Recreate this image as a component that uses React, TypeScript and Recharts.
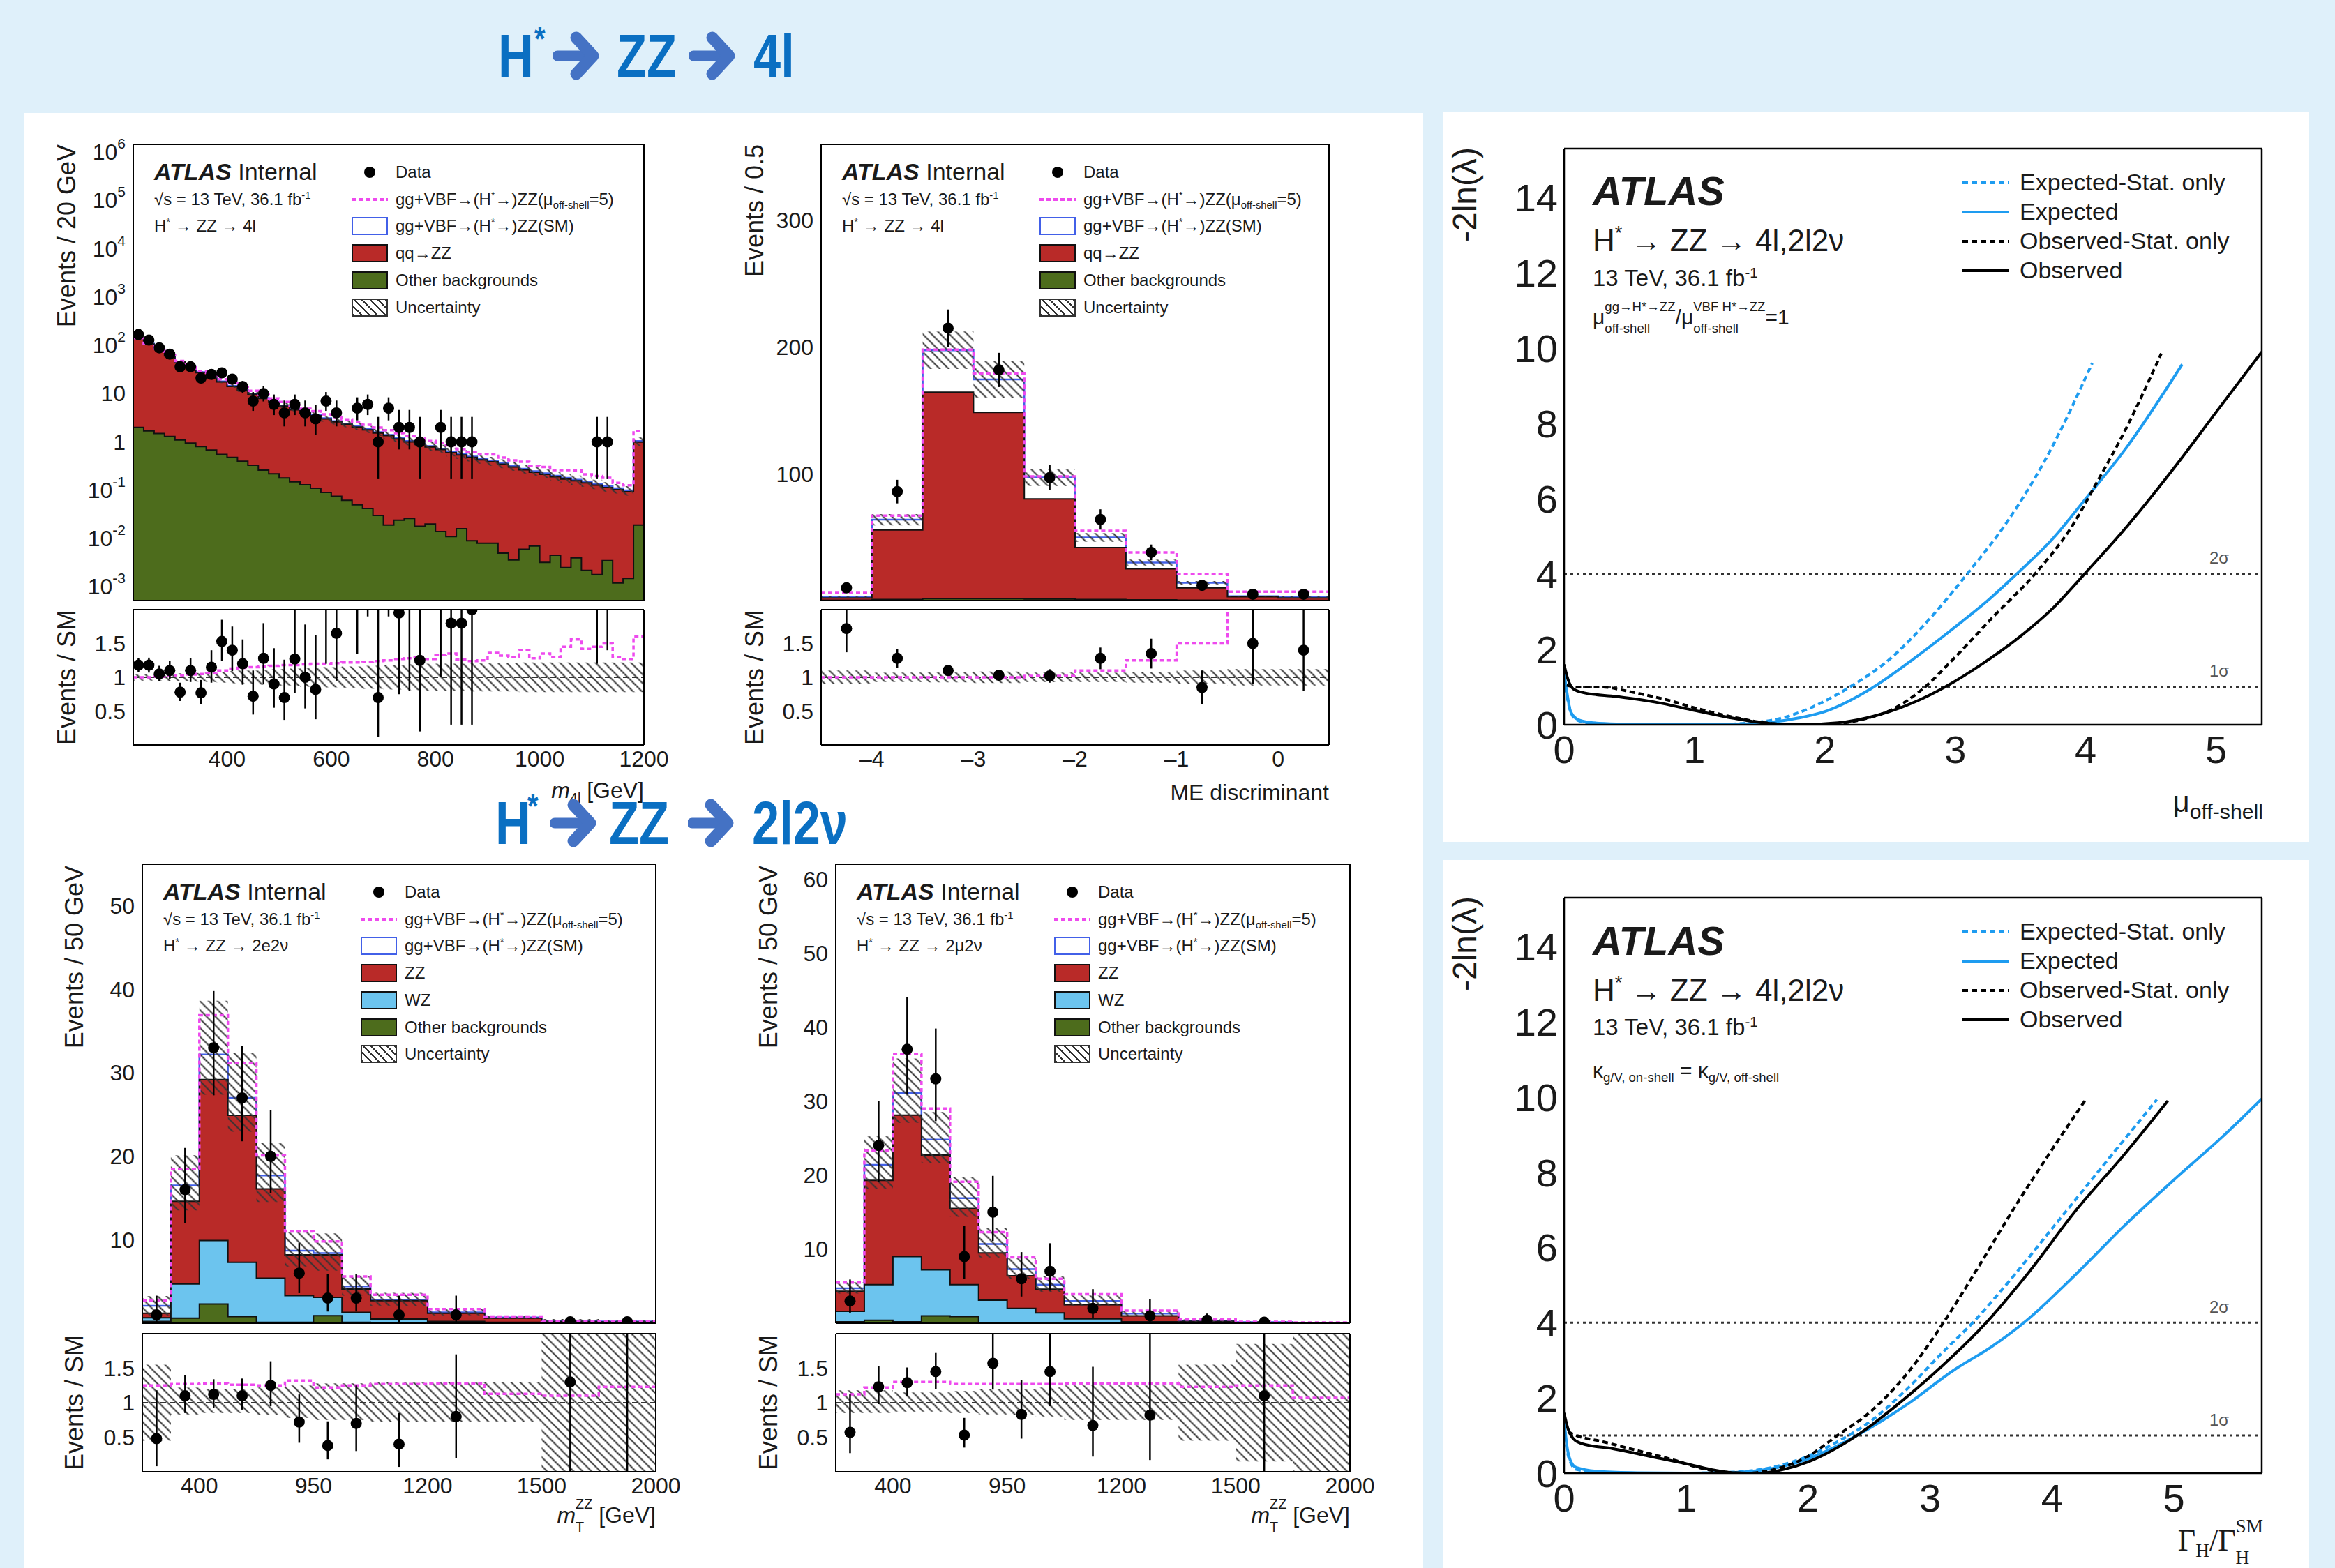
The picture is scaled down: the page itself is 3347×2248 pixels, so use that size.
import React from 'react';
import { ComposedChart, Area, Line, Scatter, XAxis, YAxis, ErrorBar, ReferenceLine } from 'recharts';

const FONT = '"Liberation Sans", Arial, Helvetica, sans-serif';
const SERIF = '"Liberation Serif", "Times New Roman", serif';
const BG = '#dff0fa';
const RED = '#b92a28';
const GREEN = '#4d6c1c';
const WZC = '#6cc4ee';
const SIGC = '#4260e8';
const MAG = '#ee4aee';
const CBLUE = '#1e9cf0';
const INK = '#1a1a1a';
const TITLE_BLUE = '#0a6fc2';
const ARROW_BLUE = '#4472c4';

// ---------- H* -> ZZ -> 4l, m4l (20 GeV bins, 220-1200) ----------
const m4lEdges = Array.from({ length: 50 }, (_, i) => 220 + 20 * i);
const m4lOther = [2.0, 1.7, 1.5, 1.3, 1.1, 0.95, 0.8, 0.68, 0.55, 0.48, 0.4, 0.33, 0.26, 0.22, 0.18, 0.15, 0.13, 0.11, 0.09, 0.075, 0.062, 0.05, 0.042, 0.03, 0.019, 0.024, 0.026, 0.018, 0.02, 0.014, 0.011, 0.016, 0.009, 0.008, 0.008, 0.005, 0.0036, 0.006, 0.007, 0.0032, 0.0045, 0.0025, 0.004, 0.0022, 0.0018, 0.0035, 0.0012, 0.0015, 0.019];
const m4lQQ = [137, 105, 82, 59, 44, 34, 26.5, 20.8, 17, 13.6, 11.3, 9.4, 7.7, 6.4, 5.35, 4.5, 3.84, 3.38, 2.91, 2.54, 2.26, 1.98, 1.74, 1.51, 1.33, 1.13, 0.98, 0.87, 0.77, 0.68, 0.59, 0.52, 0.47, 0.42, 0.38, 0.34, 0.3, 0.26, 0.23, 0.21, 0.186, 0.169, 0.153, 0.14, 0.126, 0.11, 0.102, 0.092, 0.98];
const m4lSig = [2.5, 2.0, 1.6, 1.3, 1.0, 0.8, 0.65, 0.55, 0.45, 0.38, 0.32, 0.27, 0.23, 0.2, 0.17, 0.15, 0.13, 0.115, 0.1, 0.09, 0.08, 0.072, 0.065, 0.058, 0.052, 0.046, 0.041, 0.037, 0.033, 0.03, 0.027, 0.024, 0.022, 0.02, 0.018, 0.016, 0.015, 0.013, 0.012, 0.011, 0.01, 0.009, 0.0085, 0.008, 0.0075, 0.007, 0.0065, 0.006, 0.05];
const m4lMu5Ratio = [1.0, 1.0, 1.01, 1.02, 1.03, 1.04, 1.05, 1.06, 1.1, 1.13, 1.14, 1.15, 1.16, 1.17, 1.18, 1.18, 1.19, 1.2, 1.2, 1.21, 1.22, 1.22, 1.23, 1.24, 1.25, 1.27, 1.28, 1.3, 1.27, 1.33, 1.35, 1.26, 1.24, 1.25, 1.36, 1.32, 1.3, 1.4, 1.28, 1.35, 1.3, 1.45, 1.56, 1.42, 1.45, 1.5, 1.3, 1.27, 1.6];
const m4lUnc = [0.05, 0.05, 0.05, 0.055, 0.06, 0.06, 0.065, 0.07, 0.08, 0.09, 0.1, 0.1, 0.11, 0.12, 0.12, 0.13, 0.14, 0.14, 0.15, 0.15, 0.16, 0.16, 0.17, 0.17, 0.18, 0.18, 0.19, 0.19, 0.2, 0.2, 0.2, 0.2, 0.21, 0.21, 0.21, 0.21, 0.21, 0.22, 0.22, 0.22, 0.22, 0.22, 0.22, 0.22, 0.22, 0.22, 0.22, 0.22, 0.22];
// [bin, value, errLow, errHigh]
const m4lData = [[0, 168, 13, 13.5], [1, 129, 11.4, 11.9], [2, 89, 9.4, 9.9], [3, 66, 8.1, 8.6], [4, 36, 6, 6.5], [5, 36, 6, 6.5], [6, 21, 4.6, 5.1], [7, 25, 5, 5.5], [8, 27, 5.2, 5.7], [9, 20, 4.5, 5], [10, 14, 3.7, 4.3], [11, 7, 2.6, 3.8], [12, 10, 3.1, 4.3], [13, 6, 2.4, 3.6], [14, 4, 1.9, 3.2], [15, 6, 2.4, 3.6], [16, 4, 1.9, 3.2], [17, 3, 1.6, 2.9], [18, 7, 2.6, 3.8], [19, 4, 1.9, 3.2], [21, 5, 2.2, 3.4], [22, 6, 2.4, 3.6], [23, 1, 0.83, 2.3], [24, 5, 2.2, 3.4], [25, 2, 1.3, 2.6], [26, 2, 1.3, 2.6], [27, 1, 0.83, 2.3], [29, 2, 1.3, 2.6], [30, 1, 0.83, 2.3], [31, 1, 0.83, 2.3], [32, 1, 0.83, 2.3], [44, 1, 0.83, 2.3], [45, 1, 0.83, 2.3]];
const m4lRatio = [[0, 1.18, 0.1, 0.1], [1, 1.18, 0.11, 0.11], [2, 1.05, 0.11, 0.12], [3, 1.1, 0.13, 0.14], [4, 0.78, 0.13, 0.14], [5, 1.1, 0.17, 0.18], [6, 0.77, 0.17, 0.19], [7, 1.15, 0.23, 0.25], [8, 1.53, 0.29, 0.32], [9, 1.4, 0.31, 0.35], [10, 1.2, 0.31, 0.36], [11, 0.72, 0.27, 0.38], [12, 1.28, 0.38, 0.52], [13, 0.9, 0.35, 0.53], [14, 0.7, 0.33, 0.56], [15, 1.27, 0.5, 0.75], [16, 1.0, 0.46, 0.78], [17, 0.82, 0.44, 0.8], [18, 2.3, 1.1, 1.2], [19, 1.65, 0.7, 1.2], [21, 2.4, 1.05, 1.6], [22, 3.2, 1.3, 2], [23, 0.7, 0.58, 1.5], [24, 3.5, 1.6, 2.4], [25, 1.95, 1.2, 2.2], [26, 2.2, 1.4, 2.7], [27, 1.25, 1.05, 2.6], [29, 2.8, 1.8, 3.6], [30, 1.8, 1.5, 3.6], [31, 1.8, 1.5, 4], [32, 2.0, 1.7, 4.6], [44, 7.4, 6.2, 17], [45, 8.3, 6.9, 19]];

// ---------- H* -> ZZ -> 4l, ME discriminant ----------
const meEdges = [-4.5, -4, -3.5, -3, -2.5, -2, -1.5, -1, -0.5, 0, 0.5];
const meOther = [0.3, 0.8, 1.5, 1.5, 1.2, 0.8, 0.5, 0.3, 0.1, 0.1];
const meQQ = [1.7, 55, 163, 147, 79, 41, 24.5, 9.7, 2.9, 1.9];
const meSig = [1, 8, 33, 26, 17, 8, 5, 4, 0.5, 1];
const meMu5 = [6, 67, 198, 179, 98, 55, 38, 21, 7, 7];
const meMu5Ratio = [1, 1, 1, 1, 1.02, 1.1, 1.25, 1.5, 2.3, 2.3];
const meUnc = [0.1, 0.07, 0.075, 0.085, 0.07, 0.07, 0.08, 0.1, 0.12, 0.12];
const meData = [[0, 10, 3.2, 3.2], [1, 86, 9.3, 9.3], [2, 215, 14.7, 14.7], [3, 182, 13.5, 13.5], [4, 97, 9.8, 9.8], [5, 64, 8, 8], [6, 38, 6.2, 6.2], [7, 12, 3.5, 3.5], [8, 5, 2.2, 2.2], [9, 5, 2.2, 2.2]];
const meRatio = [[0, 1.72, 0.35, 0.35], [1, 1.28, 0.14, 0.14], [2, 1.1, 0.08, 0.08], [3, 1.03, 0.08, 0.08], [4, 1.02, 0.1, 0.1], [5, 1.28, 0.16, 0.16], [6, 1.35, 0.22, 0.22], [7, 0.85, 0.25, 0.25], [8, 1.5, 0.6, 0.6], [9, 1.4, 0.6, 0.6]];

// ---------- H* -> ZZ -> 2l2v, mT (bins drawn at equal width) ----------
const mtEdges = [0, 1, 2, 3, 4, 5, 6, 7, 8, 10, 12, 14, 16, 18];
const mtTickPos = [2, 6, 10, 14, 18];
const mtTickLabels = ['400', '950', '1200', '1500', '2000'];

const eeOther = [0.2, 0.6, 2.3, 0.8, 0.1, 0.1, 0.9, 0.1, 0.05, 0.03, 0.02, 0.01, 0.01];
const eeWZ = [0.45, 4.1, 7.6, 6.5, 5.3, 3.2, 2.2, 1.2, 0.45, 0.17, 0.08, 0.04, 0.02];
const eeZZ = [0.55, 9.9, 19.3, 17.6, 10.7, 4.9, 5.1, 2.8, 2.2, 1.0, 0.5, 0.15, 0.12];
const eeSig = [0.9, 1.9, 3.0, 2.1, 1.6, 0.5, 0.2, 0.3, 0.1, 0.1, 0.1, 0.05, 0.05];
const eeMu5 = [2.7, 18.5, 36.9, 31.2, 20.1, 11, 9.8, 5.6, 3.4, 1.7, 0.8, 0.25, 0.2];
const eeMu5Ratio = [1.25, 1.27, 1.28, 1.26, 1.25, 1.32, 1.22, 1.25, 1.27, 1.28, 1.13, 1.1, 1.23];
const eeUncLo = [0.45, 0.82, 0.85, 0.85, 0.82, 0.78, 0.75, 0.75, 0.72, 0.72, 0.72, 0, 0];
const eeUncHi = [1.55, 1.22, 1.2, 1.2, 1.22, 1.25, 1.28, 1.28, 1.3, 1.3, 1.3, 2, 2];
const eeData = [[0, 1, 0.83, 2.3], [1, 16, 4, 5], [2, 33, 5.7, 6.8], [3, 27, 5.2, 6.2], [4, 20, 4.4, 5.5], [5, 6, 2.4, 3.6], [6, 3, 1.6, 2.9], [7, 3, 1.6, 2.9], [8, 1, 0.83, 2.3], [9, 1, 0.83, 2.3], [11, 0.17, 0.14, 0.38], [12, 0.17, 0.14, 0.38]];
const eeRatio = [[0, 0.48, 0.4, 0.7], [1, 1.1, 0.25, 0.3], [2, 1.12, 0.2, 0.22], [3, 1.1, 0.2, 0.25], [4, 1.25, 0.3, 0.35], [5, 0.72, 0.3, 0.4], [6, 0.38, 0.2, 0.35], [7, 0.7, 0.4, 0.55], [8, 0.4, 0.33, 0.45], [9, 0.8, 0.6, 0.9], [11, 1.3, 1.3, 2], [12, 2.6, 2.6, 3]];

const mmOther = [0.2, 0.4, 0.2, 1.0, 0.9, 0.1, 0.1, 0.05, 0.05, 0.02, 0.01, 0.01, 0.01];
const mmWZ = [1.4, 4.8, 8.8, 6.2, 4.3, 3.0, 1.9, 1.35, 0.55, 0.18, 0.07, 0.03, 0.01];
const mmZZ = [2.7, 14.1, 19.1, 15.5, 10.3, 6.4, 4.4, 3.2, 1.9, 0.8, 0.17, 0.06, 0.03];
const mmSig = [0.4, 2.1, 3.0, 2.1, 1.4, 1.2, 0.9, 0.6, 0.5, 0.3, 0.1, 0.05, 0.03];
const mmMu5 = [5.5, 23.3, 36.4, 29, 19.1, 12.3, 8.9, 6, 3.9, 1.7, 0.5, 0.2, 0.1];
const mmMu5Ratio = [1.12, 1.22, 1.3, 1.3, 1.27, 1.27, 1.27, 1.27, 1.28, 1.28, 1.23, 1.25, 1.07];
const mmUncLo = [0.85, 0.85, 0.87, 0.87, 0.85, 0.83, 0.82, 0.8, 0.75, 0.75, 0.45, 0.15, 0];
const mmUncHi = [1.18, 1.18, 1.15, 1.15, 1.17, 1.2, 1.2, 1.22, 1.25, 1.25, 1.55, 1.85, 2];
const mmData = [[0, 3, 1.6, 2.9], [1, 24, 4.9, 6], [2, 37, 6.1, 7.1], [3, 33, 5.7, 6.8], [4, 9, 3, 4.1], [5, 15, 3.9, 4.9], [6, 6, 2.4, 3.6], [7, 7, 2.6, 3.8], [8, 2, 1.3, 2.6], [9, 1, 0.83, 2.3], [10, 0.4, 0.33, 0.9], [11, 0.13, 0.11, 0.3]];
const mmRatio = [[0, 0.57, 0.3, 0.55], [1, 1.23, 0.25, 0.3], [2, 1.29, 0.2, 0.22], [3, 1.45, 0.25, 0.27], [4, 0.53, 0.18, 0.25], [5, 1.57, 0.38, 0.45], [6, 0.83, 0.35, 0.5], [7, 1.45, 0.5, 0.75], [8, 0.67, 0.45, 0.85], [9, 0.82, 0.65, 1.2], [11, 1.1, 1.1, 1.5]];

// ---------- likelihood scans [x, -2ln(lambda)] ----------
const muExpStat = [[0, 1.25], [0.02, 0.8], [0.05, 0.35], [0.1, 0.12], [0.2, 0.04], [0.4, 0.01], [0.8, 0], [1.2, 0.01], [1.5, 0.07], [1.8, 0.32], [2.0, 0.63], [2.19, 1.0], [2.5, 1.75], [2.8, 2.8], [3.09, 4.0], [3.4, 5.4], [3.7, 7.1], [4.05, 9.6]];
const muExp = [[0, 1.4], [0.02, 0.9], [0.05, 0.35], [0.1, 0.15], [0.2, 0.06], [0.4, 0.02], [0.8, 0], [1.2, 0], [1.5, 0.04], [1.8, 0.18], [2.0, 0.35], [2.35, 0.95], [2.7, 1.8], [3.0, 2.6], [3.25, 3.3], [3.47, 4.0], [3.75, 4.95], [4.0, 6.0], [4.3, 7.3], [4.74, 9.57]];
const muObsStat = [[0.02, 1.05], [0.1, 1.0], [0.3, 1.0], [0.5, 0.88], [0.8, 0.65], [1.0, 0.45], [1.3, 0.2], [1.5, 0.07], [1.7, 0.01], [1.9, 0], [2.1, 0.03], [2.3, 0.15], [2.5, 0.38], [2.75, 0.95], [3.0, 1.8], [3.3, 2.9], [3.61, 4.0], [3.9, 5.3], [4.08, 6.4], [4.3, 7.8], [4.58, 9.86]];
const muObs = [[0, 1.6], [0.03, 1.2], [0.07, 0.95], [0.15, 0.85], [0.4, 0.75], [0.7, 0.6], [1.0, 0.38], [1.3, 0.17], [1.5, 0.06], [1.8, 0], [2.1, 0.05], [2.4, 0.25], [2.7, 0.62], [2.92, 1.0], [3.2, 1.6], [3.5, 2.35], [3.75, 3.1], [3.99, 4.0], [4.3, 5.2], [4.74, 7.1], [5.0, 8.3], [5.35, 9.9]];

const gExpStat = [[0, 1.25], [0.02, 0.7], [0.05, 0.3], [0.1, 0.1], [0.3, 0.02], [0.6, 0], [1.0, 0], [1.4, 0.03], [1.7, 0.15], [2.0, 0.45], [2.25, 0.85], [2.5, 1.35], [2.8, 2.2], [3.1, 3.2], [3.35, 4.0], [3.7, 5.3], [4.0, 6.5], [4.4, 8.1], [4.86, 9.93]];
const gExp = [[0, 1.45], [0.02, 0.8], [0.05, 0.35], [0.1, 0.15], [0.3, 0.04], [0.6, 0.01], [1.0, 0], [1.4, 0.02], [1.7, 0.12], [2.0, 0.38], [2.4, 1.0], [2.8, 1.8], [3.2, 2.75], [3.5, 3.35], [3.77, 4.0], [4.2, 5.3], [4.6, 6.6], [5.0, 7.8], [5.4, 8.95], [5.72, 9.95]];
const gObsStat = [[0.03, 1.1], [0.1, 1.0], [0.3, 0.85], [0.6, 0.6], [0.9, 0.35], [1.1, 0.15], [1.3, 0.03], [1.5, 0], [1.7, 0.08], [2.0, 0.45], [2.24, 1.0], [2.5, 1.6], [2.8, 2.6], [3.11, 4.0], [3.4, 5.5], [3.7, 7.1], [4.0, 8.6], [4.28, 9.95]];
const gObs = [[0, 1.6], [0.03, 1.2], [0.08, 0.9], [0.15, 0.78], [0.4, 0.65], [0.7, 0.45], [1.0, 0.25], [1.2, 0.1], [1.4, 0.01], [1.6, 0], [1.8, 0.1], [2.0, 0.3], [2.4, 1.0], [2.8, 2.0], [3.1, 2.85], [3.46, 4.0], [3.8, 5.3], [4.2, 7.0], [4.6, 8.5], [4.95, 9.9]];

// ---------- helpers ----------
const steps = (a: number, b: number, s: number) => {
  const out: number[] = [];
  for (let v = a; v <= b + 1e-9; v += s) out.push(+v.toFixed(4));
  return out;
};
const logMajor = [0.001, 0.01, 0.1, 1, 10, 100, 1000, 1e4, 1e5, 1e6];
const logMinor: number[] = [];
for (let e = -4; e <= 5; e++) for (let m = 2; m <= 9; m++) logMinor.push(+(m * Math.pow(10, e)).toPrecision(3));

type Rect = { x: number; y: number; w: number; h: number };
const PAD = 60;
function place(r: Rect, yW: number, xH: number) {
  return {
    style: { position: 'absolute' as const, left: r.x - yW - PAD, top: r.y - PAD },
    width: r.w + yW + 2 * PAD,
    height: r.h + xH + 2 * PAD,
    margin: { top: PAD, right: PAD, bottom: PAD, left: PAD },
  };
}

function frameAxes(f: any) {
  const ln = { stroke: '#000', strokeWidth: f.lw };
  const lab = { fontSize: f.font, fill: INK, fontFamily: FONT };
  const sc = f.ylog ? 'log' : 'linear';
  const T = 0.01;
  const out: any[] = [
    <XAxis key="x" dataKey="x" type="number" domain={f.xd} ticks={f.xMaj} allowDataOverflow interval={0}
      height={f.xH} tickLine={false} axisLine={ln} tickSize={f.xTS ?? 6} tickMargin={f.xTM ?? 2}
      tick={f.xLab ? lab : false} tickFormatter={f.xFmt} />,
    <YAxis key="y" type="number" scale={sc} domain={f.yd} ticks={f.yMaj} allowDataOverflow interval={0}
      width={f.yW} tickLine={false} axisLine={ln} tickSize={f.yTS ?? 8} tickMargin={f.yTM ?? 3}
      tick={f.yTick ?? lab} tickFormatter={f.yFmt} />,
  ];
  const sets: [number[], number][] = [[f.xMaj, f.maj], [f.xMin, f.min]];
  const ysets: [number[], number][] = [[f.yMaj, f.maj], [f.yMin, f.min]];
  [false, true].forEach((top) => {
    sets.forEach(([ticks, len], j) => {
      const id = `x${top ? 't' : 'b'}${j}`;
      out.push(
        <XAxis key={id} xAxisId={id} type="number" domain={f.xd} ticks={ticks} allowDataOverflow interval={0}
          orientation={top ? 'top' : 'bottom'} mirror height={T} tickSize={len} tickLine={ln}
          axisLine={top && j === 0 ? ln : false} tick={false} />
      );
    });
    ysets.forEach(([ticks, len], j) => {
      const id = `y${top ? 'r' : 'l'}${j}`;
      out.push(
        <YAxis key={id} yAxisId={id} type="number" scale={sc} domain={f.yd} ticks={ticks} allowDataOverflow interval={0}
          orientation={top ? 'right' : 'left'} mirror width={T} tickSize={len} tickLine={ln}
          axisLine={top && j === 0 ? ln : false} tick={false} />
      );
    });
  });
  return out;
}

const Hatch = ({ id }: { id: string }) => (
  <pattern id={id} patternUnits="userSpaceOnUse" width={9} height={9} patternTransform="rotate(-45)">
    <line x1={4.5} y1={0} x2={4.5} y2={9} stroke="#333" strokeWidth={2} />
  </pattern>
);

const Dot = (p: any) => <circle cx={p.cx} cy={p.cy} r={8} fill="#000" />;

const LogTick = (p: any) => {
  const v = p.payload.value;
  const e = Math.round(Math.log10(v));
  const base = { x: p.x, y: p.y, textAnchor: 'end' as const, fontSize: 32, fill: INK, fontFamily: FONT, dominantBaseline: 'central' as const };
  if (e === 0) return <text {...base}>1</text>;
  if (e === 1) return <text {...base}>10</text>;
  return (
    <text {...base}>
      10<tspan fontSize={21} dy={-13}>{String(e)}</tspan>
    </text>
  );
};

type Spec = {
  edges: number[];
  layers: { vals: number[]; fill: string }[];
  sig: number[];
  mu5?: number[];
  mu5r: number[];
  lo: number[];
  hi: number[];
  data: number[][];
  ratio: number[][];
};

function rowsOf(s: Spec) {
  const n = s.edges.length - 1;
  return s.edges.map((x, i) => {
    const k = Math.min(i, n - 1);
    const row: Record<string, any> = { x };
    let c = 0;
    s.layers.forEach((l, j) => {
      c += l.vals[k];
      row['c' + j] = c;
    });
    const tot = c + s.sig[k];
    row.tot = tot;
    row.mu5 = s.mu5 ? s.mu5[k] : tot * s.mu5r[k];
    row.band = [tot * s.lo[k], tot * s.hi[k]];
    row.r5 = s.mu5r[k];
    row.rband = [s.lo[k], s.hi[k]];
    return row;
  });
}
// error bars are cut at the frame top (ymax) since Recharts does not clip them
const ptsOf = (s: Spec, list: number[][], ymax = Infinity) =>
  list.map(([b, v, lo, hi]) => ({
    x: (s.edges[b] + s.edges[b + 1]) / 2,
    y: v,
    e: [Math.min(lo, v), Math.min(v + hi, ymax) - v],
  }));

function Hist({ id, spec, main, ratio, ylog, yd, yMaj, yMin, yTick, xd, xMaj, xMin, xFmt }: any) {
  const rows = rowsOf(spec);
  const pts = ptsOf(spec, spec.data, yd[1]);
  const rpts = ptsOf(spec, spec.ratio, 2);
  const m = place(main, 120, 1);
  const r = place(ratio, 120, 50);
  const base = ylog ? yd[0] : 0;
  const layers = spec.layers.map((l: any, j: number) => ({ ...l, key: 'c' + j })).reverse();
  const histCfg = { lw: 2, maj: 16, min: 8, font: 32, yW: 120 };
  return (
    <>
      <div style={m.style}>
        <ComposedChart width={m.width} height={m.height} margin={m.margin}>
          <defs><Hatch id={'h' + id} /></defs>
          {frameAxes({ ...histCfg, xd, xMaj, xMin, yd, yMaj, yMin, ylog, yTick, xLab: false, xH: 1 })}
          <Area data={rows} dataKey="tot" type="stepAfter" baseValue={base} fill="#fff" fillOpacity={1} stroke={SIGC} strokeWidth={2.5} isAnimationActive={false} />
          {layers.map((l: any) => (
            <Area key={l.key} data={rows} dataKey={l.key} type="stepAfter" baseValue={base} fill={l.fill} fillOpacity={1} stroke="#111" strokeWidth={2} isAnimationActive={false} />
          ))}
          <Area data={rows} dataKey="band" type="stepAfter" fill={`url(#h${id})`} fillOpacity={1} stroke="none" isAnimationActive={false} />
          <Line data={rows} dataKey="mu5" type="stepAfter" stroke={MAG} strokeWidth={3.5} strokeDasharray="6 4" dot={false} isAnimationActive={false} />
          <Scatter data={pts} dataKey="y" shape={Dot} isAnimationActive={false}>
            <ErrorBar dataKey="e" direction="y" width={0} stroke="#000" strokeWidth={2.5} />
          </Scatter>
        </ComposedChart>
      </div>
      <div style={r.style}>
        <ComposedChart width={r.width} height={r.height} margin={r.margin}>
          <defs><Hatch id={'r' + id} /></defs>
          {frameAxes({ ...histCfg, xd, xMaj, xMin, xFmt, yd: [0, 2], yMaj: [0.5, 1, 1.5], yMin: [0.25, 0.75, 1.25, 1.75], xLab: true, xH: 50 })}
          <Area data={rows} dataKey="rband" type="stepAfter" fill={`url(#r${id})`} fillOpacity={1} stroke="none" isAnimationActive={false} />
          <ReferenceLine y={1} stroke="#333" strokeWidth={2} strokeDasharray="8 5" />
          <Line data={rows} dataKey="r5" type="stepAfter" stroke={MAG} strokeWidth={3.5} strokeDasharray="6 4" dot={false} isAnimationActive={false} />
          <Scatter data={rpts} dataKey="y" shape={Dot} isAnimationActive={false}>
            <ErrorBar dataKey="e" direction="y" width={0} stroke="#000" strokeWidth={2.5} />
          </Scatter>
        </ComposedChart>
      </div>
    </>
  );
}

function Lik({ plot, xd, curves }: any) {
  const p = place(plot, 120, 80);
  return (
    <div style={p.style}>
      <ComposedChart width={p.width} height={p.height} margin={p.margin}>
        {frameAxes({
          lw: 2.5, maj: 24, min: 12, font: 56, yW: 120, xH: 80,
          xd, xMaj: [0, 1, 2, 3, 4, 5], xMin: steps(0, xd[1], 0.2),
          yd: [0, 15.3], yMaj: steps(0, 14, 2), yMin: steps(0, 15, 0.5),
          xLab: true, xTS: 10, xTM: 5, yTS: 6, yTM: 3,
        })}
        <ReferenceLine y={1} stroke="#333" strokeWidth={3} strokeDasharray="4 5" />
        <ReferenceLine y={4} stroke="#333" strokeWidth={3} strokeDasharray="4 5" />
        {curves.map((c: any, i: number) => (
          <Line key={i} data={c.pts.map(([x, y]: number[]) => ({ x, y }))} dataKey="y" type="monotone"
            stroke={c.color} strokeWidth={4} strokeDasharray={c.dash ? '8 5' : undefined} dot={false} isAnimationActive={false} />
        ))}
      </ComposedChart>
    </div>
  );
}

// ---------- text helpers ----------
const Sup = ({ children }: any) => <span style={{ fontSize: '0.62em', verticalAlign: '0.6em', lineHeight: 0 }}>{children}</span>;
const Sub = ({ children, size = '0.62em' }: any) => <span style={{ fontSize: size, verticalAlign: '-0.35em', lineHeight: 0 }}>{children}</span>;
const SS = ({ sup, sub }: any) => (
  <span style={{ display: 'inline-block', fontSize: '0.62em', lineHeight: 1, verticalAlign: 'middle' }}>
    <span style={{ display: 'block', transform: 'translateY(-0.4em)' }}>{sup}</span>
    <span style={{ display: 'block', transform: 'translateY(0.25em)' }}>{sub}</span>
  </span>
);

function Tx({ x, y, size, anchor = 'start', bold, italic, color = INK, family = FONT, children }: any) {
  const tx = anchor === 'start' ? 0 : anchor === 'middle' ? -50 : -100;
  return (
    <div style={{ position: 'absolute', left: x, top: y, transform: `translate(${tx}%, -50%)`, fontSize: size, lineHeight: 1.15, fontWeight: bold ? 700 : 400, fontStyle: italic ? 'italic' : 'normal', color, fontFamily: family, whiteSpace: 'nowrap' }}>
      {children}
    </div>
  );
}

function VTx({ x, y, size, end, children }: any) {
  return (
    <div style={{ position: 'absolute', left: x - size * 0.575, top: y, transformOrigin: 'left top', transform: `rotate(-90deg) translateX(${end ? -100 : -50}%)`, fontSize: size, lineHeight: 1.15, color: INK, fontFamily: FONT, whiteSpace: 'nowrap' }}>
      {children}
    </div>
  );
}

function Marker({ kind, color, x, y }: any) {
  const w = 52;
  const h = 26;
  if (kind === 'dot') return <div style={{ position: 'absolute', left: x + w / 2 - 8, top: y - 8, width: 16, height: 16, borderRadius: 8, background: '#000' }} />;
  if (kind === 'mag')
    return (
      <svg style={{ position: 'absolute', left: x, top: y - 4 }} width={w} height={8}>
        <line x1={0} y1={4} x2={w} y2={4} stroke={MAG} strokeWidth={4} strokeDasharray="6 4" />
      </svg>
    );
  if (kind === 'hatch')
    return <div style={{ position: 'absolute', left: x, top: y - h / 2, width: w, height: h, boxSizing: 'border-box', border: '2px solid #333', background: 'repeating-linear-gradient(45deg, #333 0 2px, #fff 2px 8px)' }} />;
  return <div style={{ position: 'absolute', left: x, top: y - h / 2, width: w, height: h, boxSizing: 'border-box', border: `2.5px solid ${kind === 'sig' ? SIGC : '#111'}`, background: color }} />;
}

const mu5Label = <>gg+VBF→(H<Sup>*</Sup>→)ZZ(μ<Sub>off-shell</Sub>=5)</>;
const smLabel = <>gg+VBF→(H<Sup>*</Sup>→)ZZ(SM)</>;

function HistLegend({ left, top, channel, items }: any) {
  const row = (i: number) => top + 40 + 38.7 * i;
  return (
    <>
      <Tx x={left + 30} y={row(0)} size={34}><b><i>ATLAS</i></b> Internal</Tx>
      <Tx x={left + 30} y={row(1)} size={24}>√s = 13 TeV, 36.1 fb<Sup>-1</Sup></Tx>
      <Tx x={left + 30} y={row(2)} size={24}>{channel}</Tx>
      {items.map((it: any, i: number) => <Marker key={'m' + i} kind={it.kind} color={it.color} x={left + 313} y={row(i)} />)}
      {items.map((it: any, i: number) => <Tx key={'t' + i} x={left + 376} y={row(i)} size={24}>{it.label}</Tx>)}
    </>
  );
}

function LikLegend({ top }: any) {
  const items = [
    { label: 'Expected-Stat. only', color: CBLUE, dash: true },
    { label: 'Expected', color: CBLUE, dash: false },
    { label: 'Observed-Stat. only', color: '#000', dash: true },
    { label: 'Observed', color: '#000', dash: false },
  ];
  return (
    <>
      {items.map((it, i) => {
        const y = top + 49 + 42 * i;
        return (
          <React.Fragment key={i}>
            <svg style={{ position: 'absolute', left: 2813, top: y - 4 }} width={67} height={8}>
              <line x1={0} y1={4} x2={67} y2={4} stroke={it.color} strokeWidth={4} strokeDasharray={it.dash ? '8 5' : undefined} />
            </svg>
            <Tx x={2895} y={y} size={34}>{it.label}</Tx>
          </React.Fragment>
        );
      })}
    </>
  );
}

// big slide title: letters plus heavy arrows
const Arrow = ({ x, y }: any) => (
  <svg style={{ position: 'absolute', left: x, top: y - 36 }} width={68} height={72}>
    <line x1={6} y1={36} x2={52} y2={36} stroke={ARROW_BLUE} strokeWidth={15} strokeLinecap="round" />
    <polyline points="33,10 57,36 33,62" fill="none" stroke={ARROW_BLUE} strokeWidth={17} strokeLinecap="round" strokeLinejoin="round" />
  </svg>
);
const Big = ({ x, y, size = 88, children }: any) => (
  <div style={{ position: 'absolute', left: x, top: y, transform: 'translateY(-50%) scaleX(0.8)', transformOrigin: 'left center', fontFamily: FONT, fontWeight: 700, fontSize: size, lineHeight: 1, color: TITLE_BLUE, whiteSpace: 'nowrap' }}>
    {children}
  </div>
);
function Title({ y, xs, tail }: any) {
  return (
    <>
      <Big x={xs[0]} y={y}>H</Big>
      <Big x={xs[1]} y={y - 24} size={50}>*</Big>
      <Arrow x={xs[2]} y={y} />
      <Big x={xs[3]} y={y}>ZZ</Big>
      <Arrow x={xs[4]} y={y} />
      <Big x={xs[5]} y={y}>{tail}</Big>
    </>
  );
}

// ---------- specs ----------
const specM4l: Spec = {
  edges: m4lEdges,
  layers: [{ vals: m4lOther, fill: GREEN }, { vals: m4lQQ, fill: RED }],
  sig: m4lSig,
  mu5r: m4lMu5Ratio,
  lo: m4lUnc.map((u) => 1 - u),
  hi: m4lUnc.map((u) => 1 + u),
  data: m4lData,
  ratio: m4lRatio,
};
const specME: Spec = {
  edges: meEdges,
  layers: [{ vals: meOther, fill: GREEN }, { vals: meQQ, fill: RED }],
  sig: meSig,
  mu5: meMu5,
  mu5r: meMu5Ratio,
  lo: meUnc.map((u) => 1 - u),
  hi: meUnc.map((u) => 1 + u),
  data: meData,
  ratio: meRatio,
};
const specEE: Spec = {
  edges: mtEdges,
  layers: [{ vals: eeOther, fill: GREEN }, { vals: eeWZ, fill: WZC }, { vals: eeZZ, fill: RED }],
  sig: eeSig,
  mu5: eeMu5,
  mu5r: eeMu5Ratio,
  lo: eeUncLo,
  hi: eeUncHi,
  data: eeData,
  ratio: eeRatio,
};
const specMM: Spec = {
  edges: mtEdges,
  layers: [{ vals: mmOther, fill: GREEN }, { vals: mmWZ, fill: WZC }, { vals: mmZZ, fill: RED }],
  sig: mmSig,
  mu5: mmMu5,
  mu5r: mmMu5Ratio,
  lo: mmUncLo,
  hi: mmUncHi,
  data: mmData,
  ratio: mmRatio,
};

const mtFmt = (v: number) => mtTickLabels[mtTickPos.indexOf(v)] ?? '';
const meFmt = (v: number) => (v < 0 ? '\u2013' + Math.abs(v) : String(v));

const items4l = [
  { kind: 'dot', label: 'Data' },
  { kind: 'mag', label: mu5Label },
  { kind: 'sig', color: '#fff', label: smLabel },
  { kind: 'box', color: RED, label: 'qq→ZZ' },
  { kind: 'box', color: GREEN, label: 'Other backgrounds' },
  { kind: 'hatch', label: 'Uncertainty' },
];
const items2l2v = [
  { kind: 'dot', label: 'Data' },
  { kind: 'mag', label: mu5Label },
  { kind: 'sig', color: '#fff', label: smLabel },
  { kind: 'box', color: RED, label: 'ZZ' },
  { kind: 'box', color: WZC, label: 'WZ' },
  { kind: 'box', color: GREEN, label: 'Other backgrounds' },
  { kind: 'hatch', label: 'Uncertainty' },
];

export default function App() {
  const mtX = { xd: [0, 18], xMaj: mtTickPos, xMin: steps(0, 18, 0.5), xFmt: mtFmt };
  return (
    <div style={{ position: 'absolute', left: 0, top: 0, width: 3347, height: 2248, background: BG, overflow: 'hidden', fontFamily: FONT }}>
      <div style={{ position: 'absolute', left: 34, top: 162, width: 2006, height: 2100, background: '#fff' }} />
      <div style={{ position: 'absolute', left: 2068, top: 160, width: 1242, height: 1047, background: '#fff' }} />
      <div style={{ position: 'absolute', left: 2068, top: 1233, width: 1242, height: 1100, background: '#fff' }} />

      {/* 4l : m4l */}
      <Hist id="a" spec={specM4l} main={{ x: 191, y: 207, w: 732, h: 654 }} ratio={{ x: 191, y: 874, w: 732, h: 194 }}
        ylog yd={[5.2e-4, 1.45e6]} yMaj={logMajor} yMin={logMinor} yTick={LogTick}
        xd={[220, 1200]} xMaj={[400, 600, 800, 1000, 1200]} xMin={steps(250, 1150, 50)} />
      <HistLegend left={191} top={207} channel={<>H<Sup>*</Sup> → ZZ → 4l</>} items={items4l} />
      <VTx x={96} y={207} size={36} end>Events / 20 GeV</VTx>
      <VTx x={96} y={971} size={36}>Events / SM</VTx>
      <Tx x={923} y={1133} size={32} anchor="end"><i>m</i><Sub>4l</Sub> [GeV]</Tx>

      {/* 4l : ME discriminant */}
      <Hist id="b" spec={specME} main={{ x: 1177, y: 207, w: 728, h: 654 }} ratio={{ x: 1177, y: 874, w: 728, h: 194 }}
        yd={[0, 360]} yMaj={[100, 200, 300]} yMin={steps(20, 340, 20)}
        xd={[-4.5, 0.5]} xMaj={[-4, -3, -2, -1, 0]} xMin={steps(-4.4, 0.4, 0.2)} xFmt={meFmt} />
      <HistLegend left={1177} top={207} channel={<>H<Sup>*</Sup> → ZZ → 4l</>} items={items4l} />
      <VTx x={1082} y={207} size={36} end>Events / 0.5</VTx>
      <VTx x={1082} y={971} size={36}>Events / SM</VTx>
      <Tx x={1905} y={1136} size={32} anchor="end">ME discriminant</Tx>

      {/* 2e2v */}
      <Hist id="c" spec={specEE} main={{ x: 204, y: 1239, w: 736, h: 658 }} ratio={{ x: 204, y: 1912, w: 736, h: 198 }}
        yd={[0, 55]} yMaj={[10, 20, 30, 40, 50]} yMin={steps(2, 54, 2)} {...mtX} />
      <HistLegend left={204} top={1239} channel={<>H<Sup>*</Sup> → ZZ → 2e2ν</>} items={items2l2v} />
      <VTx x={107} y={1241} size={36} end>Events / 50 GeV</VTx>
      <VTx x={107} y={2011} size={36}>Events / SM</VTx>
      <Tx x={940} y={2174} size={32} anchor="end"><i>m</i><SS sup="ZZ" sub="T" /> [GeV]</Tx>

      {/* 2mu2v */}
      <Hist id="d" spec={specMM} main={{ x: 1198, y: 1239, w: 737, h: 658 }} ratio={{ x: 1198, y: 1912, w: 737, h: 198 }}
        yd={[0, 62]} yMaj={[10, 20, 30, 40, 50, 60]} yMin={steps(2, 62, 2)} {...mtX} />
      <HistLegend left={1198} top={1239} channel={<>H<Sup>*</Sup> → ZZ → 2μ2ν</>} items={items2l2v} />
      <VTx x={1102} y={1241} size={36} end>Events / 50 GeV</VTx>
      <VTx x={1102} y={2011} size={36}>Events / SM</VTx>
      <Tx x={1935} y={2174} size={32} anchor="end"><i>m</i><SS sup="ZZ" sub="T" /> [GeV]</Tx>

      {/* likelihood vs mu */}
      <Lik plot={{ x: 2242, y: 213, w: 1000, h: 826 }} xd={[0, 5.35]}
        curves={[
          { pts: muExpStat, color: CBLUE, dash: true },
          { pts: muExp, color: CBLUE, dash: false },
          { pts: muObsStat, color: '#000', dash: true },
          { pts: muObs, color: '#000', dash: false },
        ]} />
      <VTx x={2100} y={211} size={48} end>-2ln(λ)</VTx>
      <Tx x={2283} y={274} size={58} bold italic>ATLAS</Tx>
      <Tx x={2283} y={345} size={44}>H<Sup>*</Sup> → ZZ → 4l,2l2ν</Tx>
      <Tx x={2283} y={399} size={33}>13 TeV, 36.1 fb<Sup>-1</Sup></Tx>
      <Tx x={2283} y={457} size={30}>μ<SS sup="gg→H*→ZZ" sub="off-shell" />/μ<SS sup="VBF H*→ZZ" sub="off-shell" />=1</Tx>
      <LikLegend top={213} />
      <Tx x={3181} y={800} size={24} anchor="middle" color="#555">2σ</Tx>
      <Tx x={3181} y={962} size={24} anchor="middle" color="#555">1σ</Tx>
      <Tx x={3244} y={1150} size={42} anchor="end">μ<Sub size="0.72em">off-shell</Sub></Tx>

      {/* likelihood vs width */}
      <Lik plot={{ x: 2242, y: 1287, w: 1000, h: 825 }} xd={[0, 5.72]}
        curves={[
          { pts: gExpStat, color: CBLUE, dash: true },
          { pts: gExp, color: CBLUE, dash: false },
          { pts: gObsStat, color: '#000', dash: true },
          { pts: gObs, color: '#000', dash: false },
        ]} />
      <VTx x={2100} y={1285} size={48} end>-2ln(λ)</VTx>
      <Tx x={2283} y={1349} size={58} bold italic>ATLAS</Tx>
      <Tx x={2283} y={1420} size={44}>H<Sup>*</Sup> → ZZ → 4l,2l2ν</Tx>
      <Tx x={2283} y={1473} size={33}>13 TeV, 36.1 fb<Sup>-1</Sup></Tx>
      <Tx x={2283} y={1535} size={30}>κ<Sub>g/V, on-shell</Sub> = κ<Sub>g/V, off-shell</Sub></Tx>
      <LikLegend top={1287} />
      <Tx x={3181} y={1874} size={24} anchor="middle" color="#555">2σ</Tx>
      <Tx x={3181} y={2036} size={24} anchor="middle" color="#555">1σ</Tx>
      <Tx x={3244} y={2212} size={44} anchor="end" family={SERIF}>Γ<Sub>H</Sub>/Γ<SS sup="SM" sub="H" /></Tx>

      <Title y={80} xs={[714, 766, 793, 884, 988, 1080]} tail="4l" />
      <Title y={1180} xs={[710, 756, 789, 873, 986, 1078]} tail="2l2ν" />
    </div>
  );
}
